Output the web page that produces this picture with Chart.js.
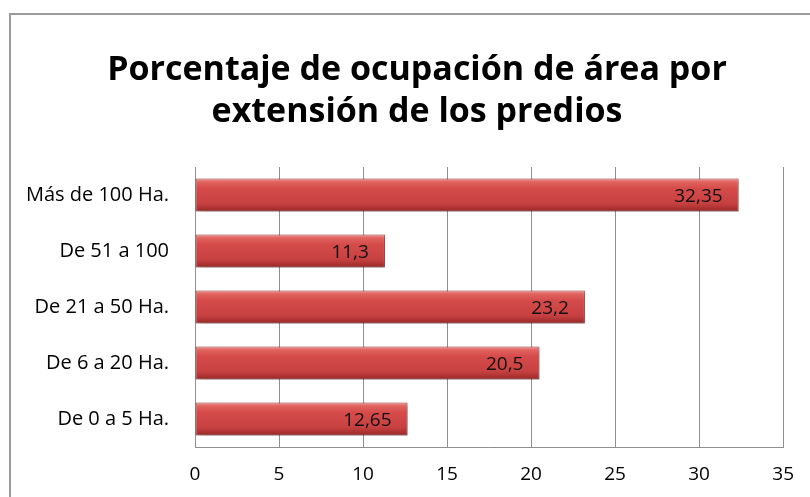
<!DOCTYPE html>
<html>
<head>
<meta charset="utf-8">
<script src="https://cdn.jsdelivr.net/npm/chart.js@4.4.1/dist/chart.umd.min.js"></script>
<style>
  html, body { margin: 0; padding: 0; background: #fff; }
  #wrap { width: 810px; height: 497px; }
</style>
</head>
<body>
<div id="wrap"><canvas id="area-chart" width="810" height="497"></canvas></div>
<script>
// categories top to bottom, and share of area (%) for each
const categories = ["Más de 100 Ha.", "De 51 a 100", "De 21 a 50 Ha.", "De 6 a 20 Ha.", "De 0 a 5 Ha."];
const percentages = [32.35, 11.3, 23.2, 20.5, 12.65];
const xTicks = [0, 5, 10, 15, 20, 25, 30, 35];
const titleLines = ["Porcentaje de ocupación de área por", "extensión de los predios"];

const FONT = "'Open Sans', sans-serif";

// red bevel-like gradient, built per bar from its pixel position
function barGradient(context) {
  const chart = context.chart;
  const yScale = chart.scales.y;
  if (!yScale || !chart.chartArea) return "#c43a3a";
  const step = yScale.height / categories.length;
  const half = (step * 0.59) / 2;
  const cy = yScale.getPixelForValue(context.dataIndex);
  const g = chart.ctx.createLinearGradient(0, cy - half, 0, cy + half);
  g.addColorStop(0, "#f2a3a3");
  g.addColorStop(0.1, "#e06461");
  g.addColorStop(0.3, "#d44b4a");
  g.addColorStop(0.75, "#c84141");
  g.addColorStop(0.92, "#a93030");
  g.addColorStop(1, "#8c2424");
  return g;
}

// thin frame on the top and left of the picture
const framePlugin = {
  id: "frame",
  beforeDraw(chart) {
    const ctx = chart.ctx;
    ctx.save();
    ctx.strokeStyle = "#9c9c9c";
    ctx.lineWidth = 2;
    ctx.beginPath();
    ctx.moveTo(10, chart.height);
    ctx.lineTo(10, 14);
    ctx.lineTo(chart.width, 14);
    ctx.stroke();
    ctx.restore();
  },
};

// two-line title, centred on the frame rather than on the plot
const titlePlugin = {
  id: "frameTitle",
  afterDraw(chart) {
    const ctx = chart.ctx;
    ctx.save();
    ctx.font = "bold 34px " + FONT;
    ctx.fillStyle = "#000";
    ctx.textAlign = "center";
    ctx.textBaseline = "alphabetic";
    ctx.fillText(titleLines[0], 417, 80);
    ctx.fillText(titleLines[1], 417, 122);
    ctx.restore();
  },
};

// soft drop shadow under the bars
const shadowPlugin = {
  id: "barShadow",
  beforeDatasetsDraw(chart) {
    const ctx = chart.ctx;
    ctx.save();
    ctx.shadowColor = "rgba(0,0,0,0.3)";
    ctx.shadowBlur = 4;
    ctx.shadowOffsetX = 2;
    ctx.shadowOffsetY = 3;
  },
  afterDatasetsDraw(chart) {
    chart.ctx.restore();
  },
};

// value written inside the end of each bar, with a decimal comma
const valueLabels = {
  id: "valueLabels",
  afterDatasetsDraw(chart) {
    const ctx = chart.ctx;
    const meta = chart.getDatasetMeta(0);
    ctx.save();
    ctx.font = "19px " + FONT;
    ctx.fillStyle = "#111";
    ctx.textAlign = "right";
    ctx.textBaseline = "middle";
    meta.data.forEach((bar, i) => {
      const text = String(percentages[i]).replace(".", ",");
      ctx.fillText(text, bar.x - 16, bar.y + 2);
    });
    ctx.restore();
  },
};

new Chart(document.querySelector("#area-chart").getContext("2d"), {
  type: "bar",
  data: {
    labels: categories,
    datasets: [
      {
        data: percentages,
        backgroundColor: barGradient,
        borderColor: "#a33030",
        borderWidth: 1,
        borderSkipped: false,
        categoryPercentage: 1,
        barPercentage: 0.59,
      },
    ],
  },
  options: {
    indexAxis: "y",
    responsive: false,
    animation: false,
    // top padding leaves room for the title drawn by titlePlugin
    layout: { padding: { left: 0, right: 24, top: 167, bottom: 0 } },
    plugins: {
      legend: { display: false },
      tooltip: { enabled: false },
      title: { display: false },
    },
    scales: {
      x: {
        min: 0,
        max: 35,
        afterBuildTicks: (scale) => {
          scale.ticks = xTicks.map((v) => ({ value: v }));
        },
        afterFit: (scale) => {
          scale.height = 50;
        },
        grid: { color: "#8f8f8f", lineWidth: 1, drawTicks: false },
        border: { display: true, color: "#8f8f8f", width: 1 },
        ticks: { color: "#000", font: { family: FONT, size: 19 }, padding: 16 },
      },
      y: {
        afterFit: (scale) => {
          scale.width = 195;
        },
        grid: { display: false, drawTicks: false },
        border: { display: true, color: "#8f8f8f", width: 1 },
        ticks: { color: "#000", font: { family: FONT, size: 20 }, padding: 26 },
      },
    },
  },
  plugins: [framePlugin, shadowPlugin, valueLabels, titlePlugin],
});
</script>
</body>
</html>
